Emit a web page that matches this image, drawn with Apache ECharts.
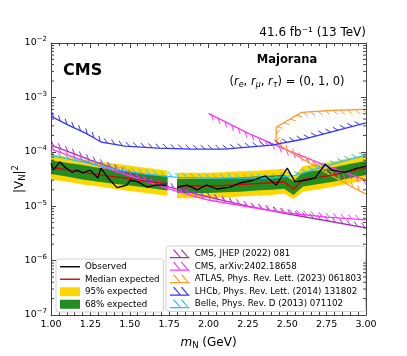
<!DOCTYPE html>
<html>
<head>
<meta charset="utf-8">
<script src="https://cdn.jsdelivr.net/npm/echarts@6/dist/echarts.min.js"></script>
<style>
  html, body { margin: 0; padding: 0; background: #fff; }
  #chart { width: 407px; height: 356px; }
</style>
</head>
<body>
<div id="chart"></div>
<script>
// expected limits (median and bands), gap between 1.74 and 1.80 GeV
const expM   = [1.00, 1.10, 1.20, 1.30, 1.40, 1.50, 1.60, 1.74, 1.80, 1.90, 2.00, 2.10, 2.20, 2.30, 2.40, 2.48, 2.54, 2.60, 2.70, 2.80, 2.90, 3.00];
const median = [5.2e-5, 4.7e-5, 4.2e-5, 3.8e-5, 3.5e-5, 3.2e-5, 2.9e-5, 2.6e-5, 2.35e-5, 2.35e-5, 2.35e-5, 2.4e-5, 2.5e-5, 2.6e-5, 2.7e-5, 2.8e-5, 2.05e-5, 3.1e-5, 3.4e-5, 3.8e-5, 4.4e-5, 5.0e-5];
const lo95   = [3.1e-5, 2.8e-5, 2.5e-5, 2.3e-5, 2.1e-5, 1.9e-5, 1.75e-5, 1.55e-5, 1.4e-5, 1.4e-5, 1.4e-5, 1.45e-5, 1.5e-5, 1.55e-5, 1.6e-5, 1.7e-5, 1.35e-5, 1.85e-5, 2.05e-5, 2.3e-5, 2.65e-5, 3.0e-5];
const lo68   = [3.9e-5, 3.5e-5, 3.1e-5, 2.8e-5, 2.6e-5, 2.4e-5, 2.2e-5, 1.95e-5, 1.75e-5, 1.75e-5, 1.75e-5, 1.8e-5, 1.85e-5, 1.95e-5, 2.0e-5, 2.1e-5, 1.6e-5, 2.3e-5, 2.55e-5, 2.85e-5, 3.3e-5, 3.75e-5];
const hi68   = [7.0e-5, 6.3e-5, 5.7e-5, 5.1e-5, 4.7e-5, 4.3e-5, 3.9e-5, 3.5e-5, 3.2e-5, 3.2e-5, 3.2e-5, 3.25e-5, 3.4e-5, 3.5e-5, 3.65e-5, 3.8e-5, 2.9e-5, 4.2e-5, 4.6e-5, 5.2e-5, 6.0e-5, 6.8e-5];
const hi95   = [9.0e-5, 8.2e-5, 7.3e-5, 6.6e-5, 6.1e-5, 5.6e-5, 5.1e-5, 4.5e-5, 4.1e-5, 4.1e-5, 4.1e-5, 4.2e-5, 4.4e-5, 4.5e-5, 4.7e-5, 4.9e-5, 3.5e-5, 5.4e-5, 6.0e-5, 6.7e-5, 7.7e-5, 8.8e-5];

// observed limit
const obsM = [1.00, 1.013, 1.057, 1.089, 1.133, 1.165, 1.203, 1.248, 1.298, 1.317, 1.362, 1.419, 1.483, 1.502, 1.552, 1.61, 1.66, 1.737,
              1.80, 1.863, 1.927, 1.99, 2.054, 2.137, 2.2, 2.283, 2.36, 2.43, 2.50, 2.55, 2.613, 2.676, 2.74, 2.784, 2.867, 2.943, 3.00];
const obsV = [6.2e-5, 4.6e-5, 6.5e-5, 5.2e-5, 4.2e-5, 4.6e-5, 4.1e-5, 4.6e-5, 3.3e-5, 5.0e-5, 3.3e-5, 2.2e-5, 2.45e-5, 3.0e-5, 2.8e-5, 2.25e-5, 2.45e-5, 2.45e-5,
              2.2e-5, 2.45e-5, 2.0e-5, 2.45e-5, 2.07e-5, 2.25e-5, 2.67e-5, 3.0e-5, 3.6e-5, 2.45e-5, 5.0e-5, 2.8e-5, 3.0e-5, 3.3e-5, 5.9e-5, 4.6e-5, 4.2e-5, 5.0e-5, 5.4e-5];
const gapAt = 1.77;

// other experiments (excluded side marked by hatching)
const cms22M = [1.0, 1.25, 1.5, 1.75, 2.0, 2.25, 2.5, 2.75, 3.0];
const cms22V = [1.33e-4, 7.0e-5, 3.9e-5, 2.25e-5, 1.47e-5, 1.0e-5, 7.2e-6, 5.4e-6, 4.0e-6];
const cmsArxLowM = [1.0, 1.25, 1.5, 1.75, 2.0, 2.25, 2.5, 2.75, 3.0];
const cmsArxLowV = [1.12e-4, 6.2e-5, 3.6e-5, 2.07e-5, 1.3e-5, 9.7e-6, 7.5e-6, 6.3e-6, 5.6e-6];
const cmsArxUpM = [3.0, 2.75, 2.5, 2.25, 2.0];
const cmsArxUpV = [3.0e-5, 5.5e-5, 1.07e-4, 2.2e-4, 5.1e-4];
const atlasM = [3.0, 2.8, 2.59, 2.43, 2.43, 2.5, 2.6, 2.75, 2.9, 3.0];
const atlasV = [6.0e-4, 5.8e-4, 5.3e-4, 2.84e-4, 1.5e-4, 1.07e-4, 7.3e-5, 4.1e-5, 2.35e-5, 1.67e-5];
const lhcbM = [1.0, 1.11, 1.22, 1.32, 1.47, 1.68, 1.9, 2.1, 2.4, 2.6, 2.8, 3.0];
const lhcbV = [4.5e-4, 3.1e-4, 2.2e-4, 1.5e-4, 1.27e-4, 1.17e-4, 1.12e-4, 1.12e-4, 1.33e-4, 1.7e-4, 2.4e-4, 3.4e-4];
const belleM = [1.0, 1.2, 1.4, 1.6, 1.8, 2.0, 2.2, 2.4, 2.55, 2.7, 2.85, 3.0];
const belleV = [8.5e-5, 6.5e-5, 4.8e-5, 3.9e-5, 3.4e-5, 3.3e-5, 3.3e-5, 3.3e-5, 3.7e-5, 5.0e-5, 6.7e-5, 8.7e-5];

const yMinors = [];
for (let e = -7; e < -2; e++) for (let k = 2; k <= 9; k++) yMinors.push(k * Math.pow(10, e));

const NAMES = {
  obs: 'Observed', med: 'Median expected', b95: '95% expected', b68: '68% expected',
  cms22: 'CMS, JHEP (2022) 081', arx: 'CMS, arXiv:2402.18658',
  atlas: 'ATLAS, Phys. Rev. Lett. (2023) 061803', lhcb: 'LHCb, Phys. Rev. Lett. (2014) 131802',
  belle: 'Belle, Phys. Rev. D (2013) 071102'
};
const FONT = 'DejaVu Sans';
const hatchIcon = 'path://M0,8.6 L20,8.6 L20,10 L0,10 Z M3.2,1.6 L4.2,0.8 L10.8,8.6 L9.4,8.6 Z M11.2,1.6 L12.2,0.8 L18.8,8.6 L17.4,8.6 Z';
const lineIcon = 'path://M0,0 L20,0 L20,1.4 L0,1.4 Z';

// line with short angled ticks on its left side (in walking direction)
function hatched(name, color, ms, vs) {
  return {
    type: 'custom', name, clip: true, z: 3,
    itemStyle: { color },
    data: ms.map((m, i) => [m, vs[i]]),
    encode: { x: 0, y: 1 },
    renderItem(params, api) {
      if (params.dataIndex !== 0) return null;
      const pts = ms.map((m, i) => api.coord([m, vs[i]]));
      const children = [{
        type: 'polyline', shape: { points: pts },
        style: { stroke: color, lineWidth: 1.3, fill: null }
      }];
      const sp = 7.5, len = 6;
      let s0 = 3;
      for (let i = 0; i < pts.length - 1; i++) {
        const a = pts[i], b = pts[i + 1];
        const L = Math.hypot(b[0] - a[0], b[1] - a[1]);
        if (L < 1e-6) continue;
        const dx = (b[0] - a[0]) / L, dy = (b[1] - a[1]) / L;
        const nx = dy, ny = -dx;
        const tx = (nx - dx) / Math.SQRT2 * len, ty = (ny - dy) / Math.SQRT2 * len;
        let s = s0;
        for (; s < L; s += sp) {
          const x = a[0] + dx * s, y = a[1] + dy * s;
          children.push({
            type: 'line', shape: { x1: x, y1: y, x2: x + tx, y2: y + ty },
            style: { stroke: color, lineWidth: 1 }
          });
        }
        s0 = s - L;
      }
      return { type: 'group', children };
    }
  };
}

function band(name, color, lo, hi) {
  return {
    type: 'custom', name, clip: true, z: 1,
    itemStyle: { color },
    data: expM.map((m, i) => [m, hi[i]]),
    encode: { x: 0, y: 1 },
    renderItem(params, api) {
      if (params.dataIndex !== 0) return null;
      const parts = [[], []];
      expM.forEach((m, i) => parts[m < gapAt ? 0 : 1].push(i));
      const children = parts.map(idx => {
        const top = idx.map(i => api.coord([expM[i], hi[i]]));
        const bot = idx.slice().reverse().map(i => api.coord([expM[i], lo[i]]));
        return { type: 'polygon', shape: { points: top.concat(bot) }, style: { fill: color } };
      });
      return { type: 'group', children };
    }
  };
}

function lineSeg(name, color, ms, vs, part) {
  const d = [];
  ms.forEach((m, i) => { if ((m < gapAt) === (part === 0)) d.push([m, vs[i]]); });
  return {
    type: 'line', name, data: d, showSymbol: false, symbol: 'none', z: 5,
    lineStyle: { color, width: 1.3 }, itemStyle: { color }, animation: false
  };
}

const powLabel = v => {
  const e = Math.round(Math.log10(v));
  return '{b|10}{s|' + (e < 0 ? '\u2212' : '') + Math.abs(e) + '}';
};
const powRich = {
  b: { fontFamily: FONT, fontSize: 9.5, color: '#000' },
  s: { fontFamily: FONT, fontSize: 7, color: '#000', padding: [0, 0, 7, 0] }
};

const chart = echarts.init(document.getElementById('chart'), null, { renderer: 'canvas' });

const series = [
  band(NAMES.b95, '#ffd700', lo95, hi95),
  band(NAMES.b68, '#228b22', lo68, hi68),
  hatched(NAMES.cms22, '#a030b0', cms22M, cms22V),
  hatched(NAMES.arx, '#ff33ff', cmsArxLowM, cmsArxLowV),
  hatched(NAMES.arx, '#ff33ff', cmsArxUpM, cmsArxUpV),
  hatched(NAMES.atlas, '#ff9a2e', atlasM, atlasV),
  hatched(NAMES.lhcb, '#3333ff', lhcbM, lhcbV),
  hatched(NAMES.belle, '#22c4f4', belleM, belleV),
  lineSeg(NAMES.med, '#e00000', expM, median, 0),
  lineSeg(NAMES.med, '#e00000', expM, median, 1),
  lineSeg(NAMES.obs, '#000000', obsM, obsV, 0),
  lineSeg(NAMES.obs, '#000000', obsM, obsV, 1),
  {
    // log minor ticks on left and right frame
    type: 'custom', silent: true, z: 6, clip: false,
    data: yMinors.map(v => [1, v]),
    encode: { x: 0, y: 1 },
    renderItem(params, api) {
      const v = api.value(1);
      const l = api.coord([1, v]), r = api.coord([3, v]);
      return { type: 'group', children: [
        { type: 'line', shape: { x1: l[0], y1: l[1], x2: l[0] + 3, y2: l[1] }, style: { stroke: '#444', lineWidth: 1 } },
        { type: 'line', shape: { x1: r[0], y1: r[1], x2: r[0] - 3, y2: r[1] }, style: { stroke: '#444', lineWidth: 1 } }
      ] };
    }
  }
];

const legendBase = {
  orient: 'vertical', itemWidth: 20, itemHeight: 9, itemGap: 1,
  borderColor: '#d0d0d0', borderWidth: 1, borderRadius: 3,
  backgroundColor: 'rgba(255,255,255,0.85)', selectedMode: false,
  textStyle: { fontFamily: FONT, fontSize: 8.7, color: '#000', lineHeight: 11.5 }
};

const option = {
  animation: false,
  grid: { left: 51, right: 41, top: 43, bottom: 41, containLabel: false, outerBoundsMode: 'none' },
  xAxis: [{
    type: 'value', min: 1, max: 3, interval: 0.25,
    name: '{i|m}{sub|N} (GeV)', nameLocation: 'middle', nameGap: 20, nameMoveOverlap: false,
    nameTextStyle: { rich: {
      i: { fontFamily: FONT, fontSize: 12, fontStyle: 'italic', color: '#000' },
      sub: { fontFamily: FONT, fontSize: 8.5, color: '#000', padding: [6, 0, 0, 0] }
    }, fontFamily: FONT, fontSize: 12, color: '#000' },
    axisLine: { lineStyle: { color: '#444', width: 1 } },
    axisTick: { inside: true, length: 5, lineStyle: { color: '#444' } },
    minorTick: { show: true, splitNumber: 5, length: 3, lineStyle: { color: '#444' } },
    splitLine: { show: false },
    axisLabel: { formatter: v => v.toFixed(2), fontFamily: FONT, fontSize: 9.5, color: '#000', margin: 5 }
  }, {
    type: 'value', min: 1, max: 3, interval: 0.25, position: 'top',
    axisLine: { lineStyle: { color: '#444', width: 1 } },
    axisTick: { inside: true, length: 5, lineStyle: { color: '#444' } },
    minorTick: { show: true, splitNumber: 5, length: 3, lineStyle: { color: '#444' } },
    splitLine: { show: false }, axisLabel: { show: false }
  }],
  yAxis: [{
    type: 'log', logBase: 10, min: 1e-7, max: 1e-2,
    axisLine: { show: true, lineStyle: { color: '#444', width: 1 } },
    axisTick: { inside: true, length: 5, lineStyle: { color: '#444' } },
    splitLine: { show: false },
    axisLabel: { formatter: powLabel, rich: powRich, margin: 4 }
  }, {
    type: 'log', logBase: 10, min: 1e-7, max: 1e-2, position: 'right',
    axisLine: { show: true, lineStyle: { color: '#444', width: 1 } },
    axisTick: { inside: true, length: 5, lineStyle: { color: '#444' } },
    splitLine: { show: false }, axisLabel: { show: false }
  }],
  legend: [
    Object.assign({}, legendBase, {
      left: 56, top: 259, padding: [2, 4, 2, 4],
      data: [
        { name: NAMES.obs, icon: lineIcon, itemStyle: { color: '#000' } },
        { name: NAMES.med, icon: lineIcon, itemStyle: { color: '#e00000' } },
        { name: NAMES.b95, icon: 'rect', itemStyle: { color: '#ffd700' } },
        { name: NAMES.b68, icon: 'rect', itemStyle: { color: '#228b22' } }
      ]
    }),
    Object.assign({}, legendBase, {
      left: 166, top: 246, padding: [2, 4, 2, 4],
      data: [
        { name: NAMES.cms22, icon: hatchIcon, itemStyle: { color: '#a030b0' } },
        { name: NAMES.arx, icon: hatchIcon, itemStyle: { color: '#ff33ff' } },
        { name: NAMES.atlas, icon: hatchIcon, itemStyle: { color: '#ff9a2e' } },
        { name: NAMES.lhcb, icon: hatchIcon, itemStyle: { color: '#3333ff' } },
        { name: NAMES.belle, icon: hatchIcon, itemStyle: { color: '#22c4f4' } }
      ]
    })
  ],
  graphic: [
    { type: 'text', x: 20, y: 179, rotation: Math.PI / 2, style: {
      text: '|V{sub|N}|{sup|2}', font: '12px "DejaVu Sans"', fill: '#000',
      textAlign: 'center', textVerticalAlign: 'middle',
      rich: {
        sub: { fontFamily: FONT, fontSize: 8.5, fill: '#000', padding: [6, 0, 0, 0] },
        sup: { fontFamily: FONT, fontSize: 8.5, fill: '#000', padding: [0, 0, 8, 0] }
      }
    } },
    { type: 'text', right: 41, top: 27, style: { text: '41.6 fb\u207b\u00b9 (13 TeV)', font: '12px "DejaVu Sans"', fill: '#000' } },
    { type: 'text', left: 63, top: 63, style: { text: 'CMS', font: 'bold 16px "DejaVu Sans"', fill: '#000' } },
    { type: 'text', x: 287, y: 54, style: { text: 'Majorana', font: 'bold 11.5px "DejaVu Sans"', fill: '#000', textAlign: 'center' } },
    { type: 'text', x: 287, y: 75, style: {
      text: '({i|r}{s|e}, {i|r}{s|\u03bc}, {i|r}{s|\u03c4}) = (0, 1, 0)',
      font: '11.5px "DejaVu Sans"', fill: '#000', textAlign: 'center',
      rich: {
        i: { fontFamily: FONT, fontSize: 11.5, fontStyle: 'italic', fill: '#000' },
        s: { fontFamily: FONT, fontSize: 8, fontStyle: 'italic', fill: '#000', padding: [6, 0, 0, 0] }
      }
    } }
  ],
  series
};

// series must map to axes 0
series.forEach(s => { s.xAxisIndex = 0; s.yAxisIndex = 0; });
chart.setOption(option);
</script>
</body>
</html>
